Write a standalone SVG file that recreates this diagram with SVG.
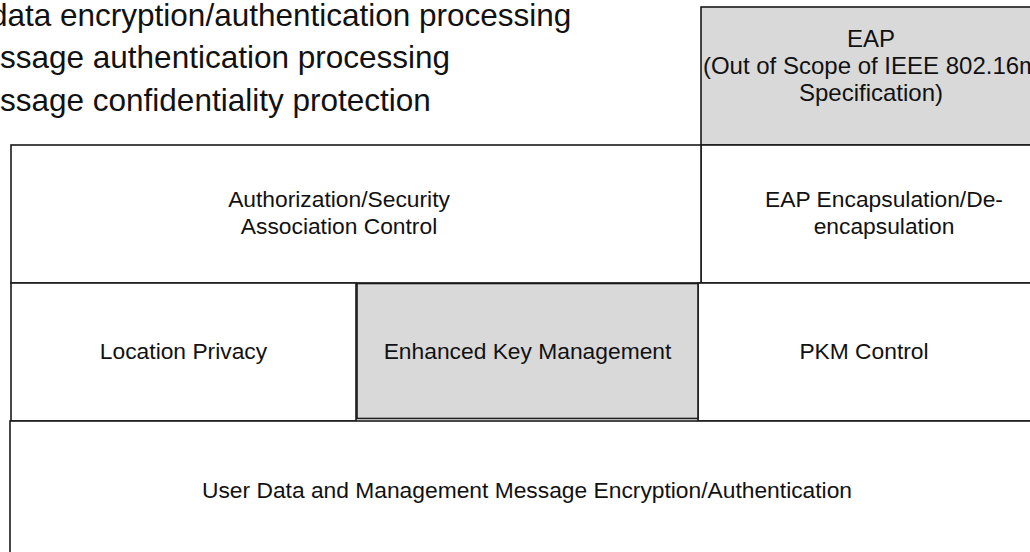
<svg xmlns="http://www.w3.org/2000/svg" width="1030" height="552" viewBox="0 0 1030 552">
<style>
.box{fill:#ffffff;stroke:#1a1a1a;stroke-width:1.6}
.gray{fill:#d9d9d9;stroke:#1a1a1a;stroke-width:1.6}
.lbl{font-family:"Liberation Sans",Arial,sans-serif;font-size:22.8px;fill:#111;text-anchor:middle}
.lbl-eap{font-size:24px}
.top{font-family:"Liberation Sans",Arial,sans-serif;font-size:31.5px;fill:#111}
</style>
<rect x="0" y="0" width="1030" height="552" fill="#ffffff"/>
<g id="bullets">
<text class="top" x="-10" y="25.5">data encryption/authentication processing</text>
<text class="top" x="0" y="68">ssage authentication processing</text>
<text class="top" x="0" y="110.5">ssage confidentiality protection</text>
</g>
<g id="eap">
<rect class="gray" x="701" y="7" width="340" height="138"/>
<text class="lbl lbl-eap"><tspan x="871" y="47">EAP</tspan><tspan x="871" y="74">(Out of Scope of IEEE 802.16m</tspan><tspan x="871" y="101">Specification)</tspan></text>
</g>
<g id="eap-encap">
<rect class="box" x="701" y="145" width="340" height="138"/>
<text class="lbl"><tspan x="884" y="207">EAP Encapsulation/De-</tspan><tspan x="884" y="233.5">encapsulation</tspan></text>
</g>
<g id="auth-sa">
<rect class="box" x="11" y="145" width="690" height="138"/>
<text class="lbl"><tspan x="339" y="207">Authorization/Security</tspan><tspan x="339" y="233.5">Association Control</tspan></text>
</g>
<g id="location-privacy">
<rect class="box" x="11" y="283" width="345" height="138"/>
<text class="lbl" x="183.5" y="359">Location Privacy</text>
</g>
<g id="pkm-control">
<rect class="box" x="698" y="283" width="345" height="138"/>
<text class="lbl" x="864" y="359">PKM Control</text>
</g>
<g id="enhanced-key-mgmt">
<rect class="gray" x="357" y="283.5" width="341" height="135"/>
<text class="lbl" x="527.5" y="359">Enhanced Key Management</text>
</g>
<g id="user-data">
<rect class="box" x="10" y="421" width="1030" height="140"/>
<text class="lbl" x="527" y="498">User Data and Management Message Encryption/Authentication</text>
</g>
<g id="connectors"></g>
</svg>
